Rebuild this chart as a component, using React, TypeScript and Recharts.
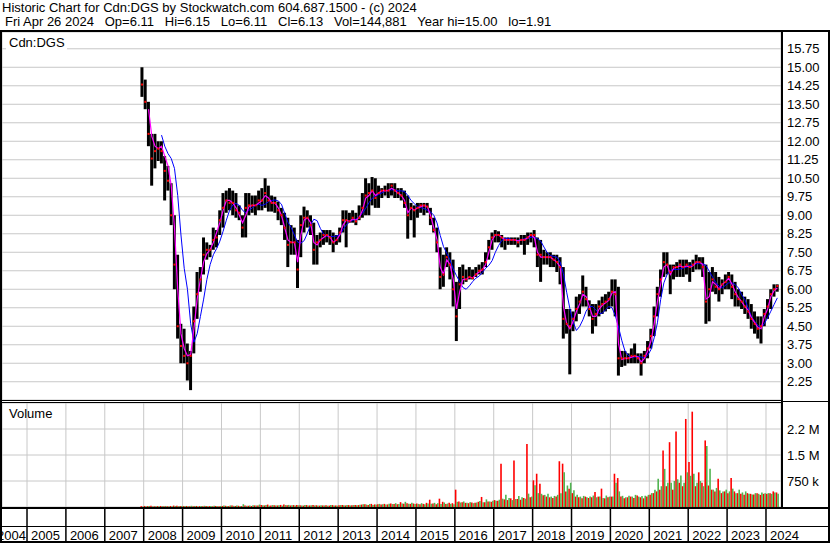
import React from 'react';
import { ComposedChart, Bar, Line, XAxis, YAxis, CartesianGrid } from 'recharts';

const FONT = '"Liberation Sans", Arial, Helvetica, sans-serif';

// monthly bars, first one is Dec 2007, last one Apr 2024
const START_YEAR = 2007;
const START_MONTH = 11;
const FAST_OFFSET = 2; // fast average starts Feb 2008
const SLOW_OFFSET = 6; // slow average starts Jun 2008

const priceHigh = [
  15.0,
  14.5, 13.6, 12.3, 12.3, 12.0, 12.0, 11.4, 11.0, 10.3, 9.0, 7.4, 4.6,
  4.4, 3.8, 3.5, 5.3, 6.7, 6.9, 8.1, 7.9, 7.8, 8.5, 8.4, 9.2,
  9.9, 10.0, 10.1, 10.0, 9.9, 9.4, 9.0, 9.9, 9.9, 9.8, 9.8, 10.0,
  10.1, 10.5, 10.2, 9.8, 9.75, 9.55, 9.3, 9.1, 8.9, 8.6, 8.5, 8.0,
  9.0, 9.35, 9.2, 9.0, 8.7, 8.2, 8.3, 8.4, 8.4, 8.4, 8.3, 8.2,
  8.5, 9.2, 9.2, 9.1, 9.2, 9.1, 9.4, 9.9, 10.5, 10.3, 10.55, 10.5,
  10.2, 10.1, 10.2, 10.3, 10.3, 10.3, 10.1, 10.1, 10.0, 9.8, 9.5, 9.4,
  9.5, 9.5, 9.5, 9.5, 9.3, 8.9, 8.5, 7.7, 7.4, 7.7, 7.5, 7.2,
  6.3, 6.9, 7.0, 6.8, 6.9, 6.8, 6.9, 7.0, 7.1, 7.5, 8.0, 8.3,
  8.4, 8.35, 8.2, 8.1, 8.1, 8.1, 8.1, 8.1, 8.2, 8.2, 8.3, 8.3,
  8.4, 8.1, 8.0, 7.6, 7.5, 7.5, 7.4, 7.4, 7.3, 6.9, 5.2, 5.2,
  5.1, 5.7, 5.8, 6.56, 6.1, 5.55, 5.4, 5.4, 5.55, 5.7, 5.8, 5.9,
  6.4, 6.4, 6.1, 3.5, 3.5, 3.4, 3.6, 3.8, 3.4, 3.4, 3.5, 3.9,
  4.4, 5.3, 6.1, 6.8, 7.5, 7.5, 7.0, 7.0, 7.1, 7.2, 7.2, 7.2,
  7.1, 7.2, 7.4, 7.3, 7.3, 7.0, 6.7, 6.9, 6.7, 6.5, 6.4, 6.6,
  6.7, 6.6, 6.3, 6.0, 5.9, 5.7, 5.6, 5.4, 5.1, 4.9, 4.9, 5.2,
  5.6, 6.0, 6.2, 6.2,
];

const priceLow = [
  13.8,
  13.3, 11.8, 10.2, 10.9, 11.2, 11.1, 9.6, 10.0, 8.6, 6.0, 4.0, 3.0,
  3.0, 2.3, 1.91, 3.4, 4.8, 5.9, 6.6, 7.2, 7.3, 7.6, 7.7, 8.2,
  8.5, 9.1, 9.2, 9.0, 8.9, 8.8, 8.1, 8.1, 9.0, 9.1, 9.0, 9.2,
  9.2, 9.3, 9.15, 9.15, 9.1, 8.8, 8.6, 8.0, 6.9, 7.4, 7.4, 6.05,
  7.3, 8.3, 8.5, 8.2, 7.0, 7.0, 7.7, 7.8, 7.9, 7.8, 7.5, 7.8,
  7.9, 8.3, 7.7, 8.7, 8.7, 8.6, 8.8, 8.9, 9.0, 9.0, 9.4, 9.3,
  9.3, 9.7, 9.8, 9.7, 9.8, 9.7, 9.7, 9.6, 9.3, 8.05, 8.8, 8.1,
  8.9, 9.1, 9.0, 9.1, 8.6, 8.3, 7.5, 6.0, 6.1, 6.9, 6.4, 5.3,
  3.9, 5.2, 6.2, 6.3, 6.4, 6.4, 6.5, 6.6, 6.6, 6.9, 7.2, 7.6,
  7.9, 7.9, 7.7, 7.6, 7.8, 7.8, 7.8, 7.7, 7.8, 7.4, 7.8, 7.9,
  7.7, 6.9, 6.3, 7.0, 7.0, 6.9, 6.9, 6.7, 6.2, 4.0, 4.2, 2.55,
  4.3, 4.7, 5.0, 5.3, 5.3, 4.9, 4.2, 4.5, 4.9, 5.0, 5.1, 5.2,
  5.3, 4.9, 2.5, 2.85, 2.9, 3.0, 3.0, 3.0, 3.0, 2.5, 3.0, 3.2,
  3.6, 4.1, 4.9, 5.7, 6.5, 6.6, 5.8, 6.4, 6.5, 6.5, 6.5, 6.6,
  6.3, 6.7, 6.8, 6.8, 6.5, 4.6, 4.7, 5.9, 5.8, 5.5, 5.8, 6.0,
  6.0, 5.6, 5.3, 5.3, 5.2, 5.0, 4.8, 4.4, 4.2, 4.0, 3.8, 4.5,
  4.8, 5.2, 5.7, 5.9,
];

const priceClose = [
  14.3,
  13.6, 12.3, 11.3, 11.6, 11.7, 11.6, 10.8, 10.4, 9.0, 7.0, 4.5, 3.7,
  3.3, 3.0, 3.3, 4.7, 5.8, 6.4, 7.4, 7.6, 7.6, 8.0, 8.1, 8.8,
  9.3, 9.6, 9.5, 9.5, 9.2, 9.1, 8.5, 9.3, 9.4, 9.4, 9.4, 9.6,
  9.6, 9.9, 9.6, 9.5, 9.5, 9.2, 9.0, 8.5, 7.8, 7.9, 7.9, 6.8,
  8.6, 8.9, 8.9, 8.6, 7.6, 7.9, 8.0, 8.2, 8.2, 8.1, 7.9, 8.0,
  8.3, 8.8, 8.8, 8.75, 8.9, 8.75, 8.9, 9.3, 9.8, 9.9, 10.0, 9.7,
  9.9, 10.0, 10.0, 10.0, 10.2, 10.0, 9.9, 9.8, 9.5, 9.0, 9.3, 9.2,
  9.3, 9.4, 9.4, 9.35, 8.9, 8.4, 7.9, 6.5, 6.6, 7.3, 7.0, 6.0,
  4.9, 6.2, 6.5, 6.4, 6.5, 6.45, 6.6, 6.75, 6.8, 7.1, 7.7, 8.1,
  8.2, 8.2, 8.1, 8.0, 8.0, 8.0, 8.0, 7.9, 8.0, 8.0, 8.1, 8.2,
  8.2, 7.4, 7.4, 7.3, 7.3, 7.3, 7.2, 7.1, 6.9, 4.8, 4.6, 4.5,
  4.8, 5.2, 5.5, 5.9, 5.6, 5.2, 4.8, 5.0, 5.3, 5.4, 5.5, 5.6,
  5.9, 5.8, 3.2, 3.2, 3.2, 3.2, 3.3, 3.3, 3.2, 3.0, 3.3, 3.6,
  4.1, 4.9, 5.8, 6.4, 7.1, 7.0, 6.7, 6.9, 6.9, 7.0, 6.9, 7.0,
  6.9, 7.0, 7.1, 7.1, 6.9, 5.5, 6.0, 6.4, 6.1, 6.0, 6.2, 6.3,
  6.5, 6.1, 5.8, 5.6, 5.5, 5.3, 5.1, 4.8, 4.6, 4.4, 4.5, 5.0,
  5.3, 5.8, 6.0, 6.13,
];

// magenta line (short moving average), from Feb 2008
const maFast = [
  13.3, 12.2, 11.8, 11.7, 11.8, 11.4, 11.0, 10.2, 8.5, 6.0, 4.2,
  3.6, 3.3, 3.35, 4.4, 5.6, 6.4, 7.1, 7.45, 7.6, 7.9, 8.3, 8.7,
  9.2, 9.6, 9.6, 9.5, 9.3, 9.0, 8.7, 9.0, 9.35, 9.4, 9.4, 9.5,
  9.6, 9.8, 9.7, 9.5, 9.5, 9.3, 9.0, 8.5, 8.0, 7.9, 7.9, 7.1,
  8.2, 8.8, 8.9, 8.7, 7.9, 7.8, 8.0, 8.1, 8.2, 8.1, 7.9, 8.0,
  8.2, 8.6, 8.8, 8.75, 8.85, 8.8, 8.9, 9.2, 9.7, 9.8, 10.0, 9.8,
  9.9, 10.0, 10.0, 10.0, 10.1, 10.0, 9.9, 9.8, 9.6, 9.1, 9.3, 9.2,
  9.3, 9.35, 9.4, 9.35, 9.0, 8.5, 8.0, 6.9, 6.6, 7.2, 7.0, 6.4,
  5.2, 5.9, 6.4, 6.4, 6.5, 6.45, 6.6, 6.7, 6.8, 7.0, 7.5, 8.0,
  8.2, 8.2, 8.1, 8.0, 8.0, 8.0, 8.0, 7.95, 8.0, 8.0, 8.1, 8.2,
  8.1, 7.5, 7.3, 7.3, 7.3, 7.3, 7.2, 7.1, 6.9, 5.3, 4.6, 4.4,
  4.7, 5.1, 5.4, 5.8, 5.7, 5.3, 4.9, 4.9, 5.2, 5.35, 5.45, 5.55,
  5.85, 5.9, 3.8, 3.15, 3.2, 3.2, 3.25, 3.3, 3.25, 3.05, 3.2, 3.5,
  3.9, 4.6, 5.5, 6.2, 6.9, 7.0, 6.6, 6.85, 6.9, 6.95, 6.9, 6.95,
  6.9, 6.95, 7.1, 7.1, 7.0, 5.6, 5.7, 6.3, 6.2, 6.0, 6.2, 6.3,
  6.45, 6.2, 5.9, 5.65, 5.5, 5.3, 5.15, 4.85, 4.65, 4.45, 4.4, 4.9,
  5.2, 5.7, 5.95, 6.05,
];

// blue line (long moving average), from Jun 2008
const maSlow = [
  12.25, 11.8, 11.5, 11.3, 10.9, 9.8, 8.2,
  6.85, 6.0, 4.6, 3.85, 4.2, 4.9, 5.6, 6.4, 7.0, 7.4, 7.65, 7.95,
  8.35, 8.8, 9.2, 9.42, 9.48, 9.4, 9.2, 9.1, 9.2, 9.3, 9.4, 9.45,
  9.4, 9.45, 9.55, 9.6, 9.62, 9.58, 9.45, 9.08, 8.72, 8.5, 8.2, 7.91,
  7.87, 7.97, 8.27, 8.61, 8.84, 8.78, 8.47, 8.24, 8.15, 8.14, 8.14, 8.16,
  8.2, 8.41, 8.61, 8.72, 8.8, 8.84, 8.95, 9.08, 9.28, 9.51, 9.69, 9.78,
  9.84, 9.91, 9.97, 10.03, 10.03, 10.03, 9.99, 9.99, 9.96, 9.8, 9.6, 9.47,
  9.34, 9.31, 9.27, 9.2, 9.14, 9.0, 8.69, 8.18, 7.73, 7.46, 7.19, 6.82,
  6.55, 6.31, 6.07, 6.0, 6.14, 6.31, 6.45, 6.53, 6.68, 6.85, 6.97, 7.16,
  7.5, 7.77, 7.98, 8.06, 8.07, 8.02, 7.98, 7.98, 8.0, 8.05, 8.05, 8.11,
  8.11, 8.05, 7.95, 7.71, 7.48, 7.37, 7.33, 7.3, 7.1, 6.63, 5.88, 5.21,
  4.67, 4.33, 4.49, 4.76, 5.11, 5.3, 5.3, 5.17, 5.01, 5.03, 5.17, 5.3,
  5.25, 4.94, 4.47, 3.93, 3.49, 3.32, 3.25, 3.25, 3.28, 3.25, 3.22, 3.32,
  3.55, 4.03, 4.64, 5.58, 6.26, 6.6, 6.76, 6.8, 6.8, 6.82, 6.86, 6.9,
  6.96, 7.0, 7.04, 7.04, 7.04, 6.96, 6.73, 6.5, 6.28, 6.12, 6.05, 6.16,
  6.26, 6.26, 6.19, 6.05, 5.78, 5.58, 5.24, 4.9, 4.7, 4.53, 4.43, 4.61,
  4.84, 5.11, 5.38, 5.65,
];

// volume in thousands, red = down days, green = up days
const volDown = [
  25,
  30, 25, 35, 20, 25, 30, 20, 25, 30, 40, 35, 30,
  25, 30, 20, 25, 30, 25, 20, 30, 25, 20, 30, 25,
  30, 35, 25, 40, 30, 35, 25, 40, 35, 30, 45, 40,
  60, 45, 70, 40, 50, 45, 60, 70, 50, 45, 55, 60,
  50, 40, 55, 45, 60, 50, 40, 45, 50, 40, 55, 45,
  50, 60, 45, 55, 50, 60, 55, 70, 80, 60, 90, 75,
  80, 70, 90, 75, 100, 85, 80, 140, 95, 110, 90, 100,
  100, 80, 90, 120, 210, 100, 80, 240, 150, 90, 120, 110,
  500, 160, 140, 120, 110, 130, 120, 150, 290, 140, 160, 150,
  200, 180, 1250, 220, 200, 250, 1340, 230, 210, 260, 1820, 280,
  770, 960, 670, 340, 300, 280, 260, 300, 1320, 1250, 450, 530,
  400, 300, 280, 250, 300, 260, 280, 430, 300, 530, 250, 280,
  300, 960, 835, 300, 250, 280, 300, 260, 330, 280, 250, 300,
  350, 400, 450, 500, 1630, 600, 1870, 500, 2180, 700, 600, 2540,
  1300, 2750, 600, 1000, 700, 1920, 620, 500, 450, 815, 400, 450,
  400, 835, 450, 400, 380, 350, 400, 380, 360, 400, 350, 380,
  380, 400, 450, 420,
];

const volUp = [
  15,
  20, 30, 20, 25, 20, 25, 30, 20, 25, 30, 25, 30,
  30, 25, 35, 30, 25, 30, 35, 25, 30, 35, 25, 30,
  40, 30, 45, 35, 40, 30, 80, 35, 45, 50, 40, 70,
  50, 60, 40, 55, 45, 50, 40, 55, 60, 50, 45, 50,
  45, 55, 40, 50, 45, 40, 50, 45, 40, 55, 45, 40,
  55, 50, 60, 45, 55, 50, 65, 80, 70, 85, 60, 70,
  90, 80, 75, 95, 85, 110, 90, 100, 150, 95, 120, 85,
  90, 110, 80, 100, 95, 120, 110, 90, 130, 100, 90, 80,
  150, 130, 160, 120, 140, 110, 130, 170, 140, 220, 160, 180,
  180, 210, 240, 355, 260, 200, 230, 320, 280, 240, 385, 300,
  625, 400, 380, 350, 385, 300, 320, 350, 400, 1000, 620, 700,
  480, 350, 300, 320, 280, 300, 330, 280, 300, 260, 330, 300,
  300, 700, 450, 322, 280, 322, 300, 350, 300, 320, 325, 350,
  400, 500, 815, 600, 1100, 700, 700, 750, 800, 910, 700, 1000,
  900, 960, 700, 750, 600, 1760, 1100, 500, 550, 480, 450, 500,
  450, 530, 400, 500, 420, 450, 380, 360, 400, 380, 420, 400,
  400, 380, 420, 380,
];

const yearTicks = [2005, 2006, 2007, 2008, 2009, 2010, 2011, 2012, 2013, 2014, 2015, 2016, 2017, 2018, 2019, 2020, 2021, 2022, 2023, 2024];
const yearLabels = ['2004', '2005', '2006', '2007', '2008', '2009', '2010', '2011', '2012', '2013', '2014', '2015', '2016', '2017', '2018', '2019', '2020', '2021', '2022', '2023', '2024'];
const priceTicks = [2.25, 3.0, 3.75, 4.5, 5.25, 6.0, 6.75, 7.5, 8.25, 9.0, 9.75, 10.5, 11.25, 12.0, 12.75, 13.5, 14.25, 15.0, 15.75];
const volTicks = [750000, 1500000, 2250000];
const volLabels = ['750 k', '1.5 M', '2.2 M'];

const X_DOMAIN: [number, number] = [2004.357, 2024.386];

const monthX = (i: number) => START_YEAR + (START_MONTH + i + 0.5) / 12;

const priceRows = priceClose.map((cl, i) => ({
  x: monthX(i),
  range: [priceLow[i], priceHigh[i]],
  cl,
  fast: i >= FAST_OFFSET ? maFast[i - FAST_OFFSET] : null,
  slow: i >= SLOW_OFFSET ? maSlow[i - SLOW_OFFSET] : null,
}));

const volRows = volDown.map((d, i) => ({
  x: monthX(i),
  down: d * 1000,
  up: volUp[i] * 1000,
}));

const PriceTick = (props: any) => (
  <text x={props.x} y={props.y} dy={4.5} fontSize={13} fontFamily={FONT} fill="#000" textAnchor="start">
    {Number(props.payload.value).toFixed(2)}
  </text>
);

const VolTick = (props: any) => (
  <text x={props.x} y={props.y} dy={4.5} fontSize={13} fontFamily={FONT} fill="#000" textAnchor="start">
    {volLabels[volTicks.indexOf(props.payload.value)]}
  </text>
);

const YearTick = (props: any) => {
  const { x, y, index } = props;
  return (
    <g>
      <line x1={x} x2={x} y1={y + 2} y2={y + 35} stroke="#000" strokeWidth={1.5} />
      <text x={x + 4} y={y + 33} fontSize={13} fontFamily={FONT} fill="#000">{yearLabels[index + 1]}</text>
      {index === 0 && (
        <text x={x - 1} y={y + 33} fontSize={13} fontFamily={FONT} fill="#000" textAnchor="end">{yearLabels[0]}</text>
      )}
    </g>
  );
};

const CloseDot = (p: any) => {
  if (p.cy == null) return <g key={`c${p.index}`} />;
  return <rect key={`c${p.index}`} x={p.cx - 1} y={p.cy - 1} width={2} height={2} fill="#ff0000" />;
};

export default function App() {
  return (
    <div style={{ position: 'absolute', left: 0, top: 0, width: 830, height: 543, background: '#fff', overflow: 'hidden' }}>
      <div style={{ position: 'absolute', left: 0, top: 32 }}>
        <ComposedChart width={830} height={368} data={priceRows} margin={{ top: 0, right: 2, bottom: 0, left: 2 }}>
          <CartesianGrid stroke="#c8c8c8" />
          <XAxis type="number" dataKey="x" domain={X_DOMAIN} ticks={yearTicks} height={0} tick={false} axisLine={false} tickLine={false} allowDataOverflow />
          <YAxis orientation="right" domain={[1.51, 16.43]} ticks={priceTicks} interval={0} width={47} axisLine={false} tickLine={false} tickSize={0} tickMargin={6} tick={<PriceTick />} allowDataOverflow />
          <Bar dataKey="range" fill="#000" barSize={3} isAnimationActive={false} />
          <Line dataKey="cl" stroke="none" dot={CloseDot} activeDot={false} isAnimationActive={false} />
          <Line dataKey="slow" stroke="#0000ff" strokeWidth={1} dot={false} activeDot={false} isAnimationActive={false} />
          <Line dataKey="fast" stroke="#ff00ff" strokeWidth={1.2} dot={false} activeDot={false} isAnimationActive={false} />
        </ComposedChart>
      </div>

      <div style={{ position: 'absolute', left: 0, top: 403 }}>
        <ComposedChart width={830} height={139} data={volRows} margin={{ top: 0, right: 2, bottom: 0, left: 2 }} barGap={0}>
          <CartesianGrid stroke="#c8c8c8" />
          <XAxis type="number" dataKey="x" domain={X_DOMAIN} ticks={yearTicks} interval={0} height={35} axisLine={false} tickLine={false} tickSize={0} tickMargin={0} tick={<YearTick />} allowDataOverflow />
          <YAxis orientation="right" domain={[0, 3000000]} ticks={volTicks} interval={0} width={47} axisLine={false} tickLine={false} tickSize={0} tickMargin={6} tick={<VolTick />} allowDataOverflow />
          <Bar dataKey="down" fill="#ff0000" barSize={1.6} isAnimationActive={false} />
          <Bar dataKey="up" fill="#50b450" barSize={1.6} isAnimationActive={false} />
        </ComposedChart>
      </div>

      <svg width={830} height={543} style={{ position: 'absolute', left: 0, top: 0, pointerEvents: 'none' }}>
        <g fontFamily={FONT} fontSize={13} fill="#000">
          <text x={2} y={12} xmlSpace="preserve" style={{ whiteSpace: 'pre' }}>
            Historic Chart for Cdn:DGS by Stockwatch.com 604.687.1500 - (c) 2024
          </text>
          <text x={5} y={26} xmlSpace="preserve" style={{ whiteSpace: 'pre' }}>
            {'Fri Apr 26 2024   Op=6.11   Hi=6.15   Lo=6.11   Cl=6.13   Vol=144,881   Year hi=15.00   lo=1.91'}
          </text>
        </g>
        {/* frame */}
        <rect x={0} y={30} width={830} height={2} fill="#000" />
        <rect x={0} y={30} width={2} height={513} fill="#000" />
        <rect x={828} y={30} width={2} height={513} fill="#000" />
        <rect x={781} y={30} width={2} height={479} fill="#000" />
        <rect x={0} y={400} width={781} height={1} fill="#000" />
        <rect x={0} y={402} width={781} height={1} fill="#000" />
        <rect x={783} y={401} width={45} height={1} fill="#000" />
        <rect x={0} y={507} width={830} height={2} fill="#000" />
        <rect x={0} y={526} width={830} height={1} fill="#000" />
        <rect x={0} y={541} width={830} height={2} fill="#000" />
        <rect x={6} y={35} width={61} height={15} fill="#fff" />
        <g fontFamily={FONT} fontSize={13} fill="#000">
          <text x={9} y={47}>Cdn:DGS</text>
          <text x={9} y={418}>Volume</text>
        </g>
      </svg>
    </div>
  );
}
